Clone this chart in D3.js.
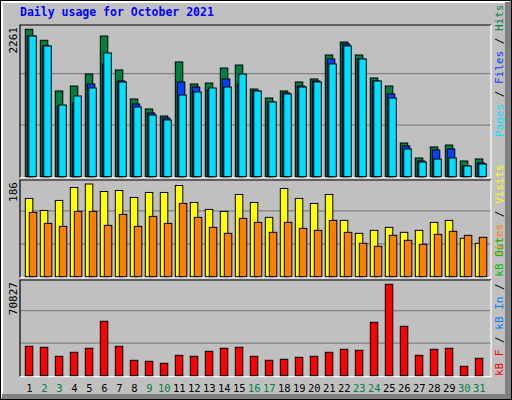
<!DOCTYPE html><html><head><meta charset="utf-8">
<script src="https://cdn.jsdelivr.net/npm/d3@7"></script>
<style>body{margin:0;background:#fff}</style></head><body>
<script>
const days = d3.range(1,32);
const weekend = [2,3,9,10,16,17,23,24,30,31];
const hits  = [2261,2092,1315,1391,1575,2158,1637,1192,1039,931,1760,1422,1437,1667,1713,1345,1207,1315,1453,1499,1867,2066,1867,1514,1391,517,287,456,486,241,272];
const files = [2158,2005,1085,1131,1422,1729,1468,1115,977,900,1453,1376,1330,1499,1422,1315,1146,1284,1391,1468,1806,2036,1806,1468,1269,471,241,410,425,164,210];
const pages = [2158,2005,1100,1238,1361,1898,1453,1069,946,870,1253,1299,1361,1376,1575,1315,1146,1269,1376,1453,1729,2005,1806,1468,1207,425,225,271,287,164,195];
const visits= [157,133,153,179,186,171,173,159,169,169,183,149,135,131,165,149,119,177,157,147,165,113,87,93,99,89,93,109,113,77,67];
const sites = [129,107,101,131,131,103,125,101,121,107,147,119,99,87,117,109,89,109,97,93,113,89,67,61,83,73,65,85,91,83,79];
const kbytes= [22785,22010,15035,18135,21235,42160,22785,11935,11160,9610,15810,15035,18910,21235,22010,15035,11935,12710,14260,15035,18135,20460,19685,41385,70827,38285,15810,20460,21235,7285,13485];
const maxLabels = ["2261","186","70827"];

const W=512,H=400;
const svg=d3.select("body").append("svg").attr("width",W).attr("height",H);
svg.append("rect").attr("width",W).attr("height",H).attr("fill","#c0c0c0");
svg.append("rect").attr("x",0.5).attr("y",0.5).attr("width",W-1).attr("height",H-1).attr("fill","none").attr("stroke","#000");
svg.append("path").attr("d","M2,397 V2 H509").attr("stroke","#fff").attr("stroke-width",2).attr("fill","none");
svg.append("rect").attr("x",505).attr("y",2).attr("width",6).attr("height",397).attr("fill","#808080");
svg.append("rect").attr("x",2).attr("y",394).attr("width",509).attr("height",5).attr("fill","#808080");

svg.append("text").attr("x",20).attr("y",16).text("Daily usage for October 2021")
  .attr("font-family","DejaVu Sans Mono").attr("font-weight","bold").attr("font-size",11.5).attr("fill","#0000ff");

const x=d3.scaleLinear().domain([1,31]).range([25.3,475.3]);
const panels=[{y0:25,y1:176.7,max:2261},{y0:180,y1:276.7,max:186},{y0:280,y1:375.7,max:70827}];
panels.forEach((p,i)=>{
  svg.append("rect").attr("x",20).attr("y",p.y0).attr("width",471).attr("height",p.y1-p.y0+1).attr("fill","#c0c0c0");
  const h=p.y1-p.y0;
  [1/3,2/3].forEach(f=>svg.append("line").attr("x1",20).attr("x2",491).attr("y1",p.y1-h*f*1.02).attr("y2",p.y1-h*f*1.02).attr("stroke","#808080").attr("stroke-width",1.2));
  svg.append("path").attr("d",`M20,${p.y1+1} V${p.y0} H491`).attr("stroke","#000").attr("fill","none").attr("stroke-width",1.2);
  svg.append("path").attr("d",`M20,${p.y1+1} H491 V${p.y0}`).attr("stroke","#fff").attr("fill","none").attr("stroke-width",1.2);
  svg.append("text").attr("transform",`translate(17,${p.y0+2}) rotate(-90)`).attr("text-anchor","end")
    .attr("font-family","DejaVu Sans Mono").attr("font-size",11).attr("fill","#000").text(maxLabels[i]);
});
const y0=d3.scaleLinear().domain([0,2261]).range([176.7,29.3]);
const y1=d3.scaleLinear().domain([0,186]).range([276.7,184]);
const y2=d3.scaleLinear().domain([0,70827]).range([375.7,284.3]);
function bars(data,ys,off,w,col){
  svg.append("g").selectAll("rect").data(data).join("rect")
   .attr("x",(d,i)=>x(i+1)+off).attr("y",d=>ys(d)).attr("width",w).attr("height",d=>ys(0)-ys(d))
   .attr("fill",col).attr("stroke","#000").attr("stroke-width",1);
}
bars(hits,y0,0,7.5,"#008040");
bars(files,y0,2,7.5,"#0040ff");
bars(pages,y0,3.5,7.5,"#00e0ff");
bars(visits,y1,0,7.5,"#ffff00");
bars(sites,y1,4,7.5,"#ff8000");
bars(kbytes,y2,0,7.5,"#ff0000");

svg.append("g").selectAll("text").data(days).join("text")
  .attr("x",d=>x(d)+4).attr("y",392).attr("text-anchor","middle")
  .attr("font-family","DejaVu Sans Mono").attr("font-size",10.5)
  .attr("fill",d=>weekend.includes(d)?"#008040":"#000").text(d=>d);

function vlabel(yStart,parts){
  const t=svg.append("text").attr("transform",`translate(503,${yStart}) rotate(-90)`)
    .attr("font-family","DejaVu Sans Mono").attr("font-size",11);
  parts.forEach(([s,c])=>t.append("tspan").attr("fill",c).text(s));
}
vlabel(137,[["Pages","#00e0ff"],[" / ","#000"],["Files","#0040ff"],[" / ","#000"],["Hits","#008040"]]);
vlabel(257,[["Sites","#ff8000"],[" / ","#000"],["Visits","#ffff00"]]);
vlabel(376,[["kB F","#ff0000"],[" / ","#000"],["kB In","#0080ff"],[" / ","#000"],["kB Out","#00c000"]]);
</script></body></html>
